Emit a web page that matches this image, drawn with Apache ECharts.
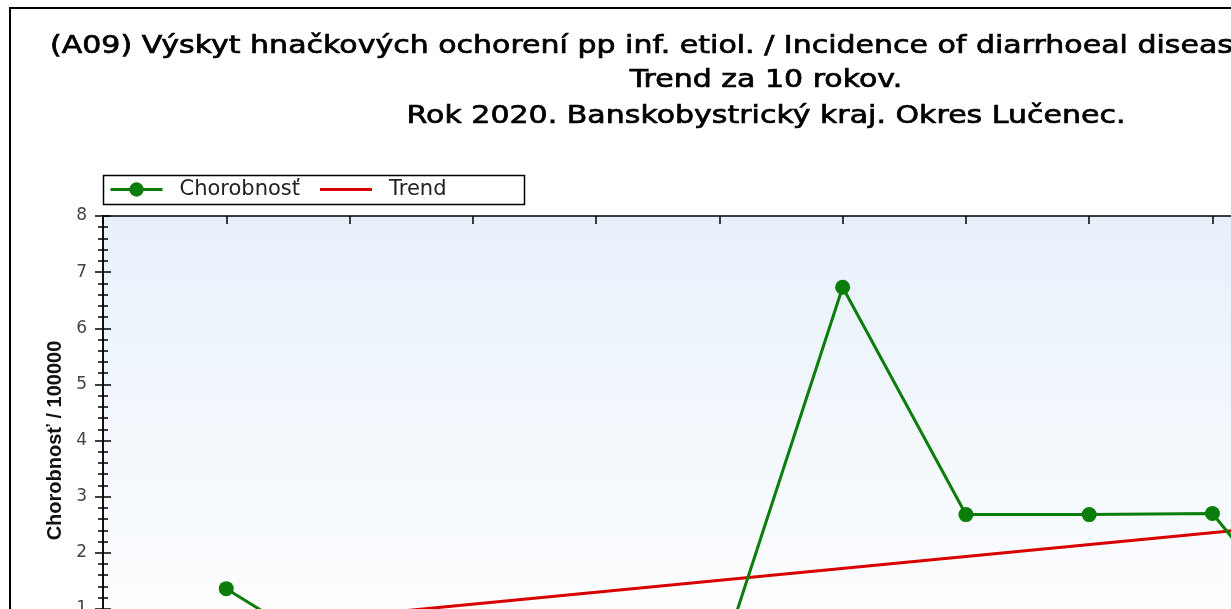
<!DOCTYPE html>
<html>
<head>
<meta charset="utf-8">
<script src="https://cdn.jsdelivr.net/npm/echarts@6/dist/echarts.min.js"></script>
<style>
    body { margin: 0; overflow: hidden; background: #fff; }
    #chart { width: 1530px; height: 760px; }
</style>
</head>
<body>
<div id="chart"></div>
<script>
    // hodnoty odcitane z grafu
    const years = [2011, 2012, 2013, 2014, 2015, 2016, 2017, 2018, 2019, 2020]
    const incidence = [1.36, 0, 0, 0, 0, 6.73, 2.68, 2.68, 2.70, 0]
    const trendYears = [2011, 2020]
    const trendValues = [0.66, 2.57]
    const yTicks = [0, 1, 2, 3, 4, 5, 6, 7, 8]

    const titleLines = [
        '(A09) Výskyt hnačkových ochorení pp inf. etiol. / Incidence of diarrhoeal diseases inf. etiol.',
        'Trend za 10 rokov.',
        'Rok 2020. Banskobystrický kraj. Okres Lučenec.'
    ]

    const green = '#0b7d0b'
    const red = '#d80000'
    const titleFont = { fontFamily: 'DejaVu Sans', fontSize: 25, fill: '#000', stroke: '#000', lineWidth: 0.7 }

    let chart = echarts.init(document.getElementById('chart'))

    let yBase = {
        type: 'value',
        min: yTicks[0],
        max: yTicks[yTicks.length - 1],
        interval: 1,
        position: 'left',
        axisLine: { show: true, onZero: false, lineStyle: { color: '#000', width: 1.5 } },
        splitLine: { show: false }
    }

    chart.setOption({
        animation: false,
        graphic: [
            { type: 'rect', shape: { x: 10, y: 8, width: 1500, height: 740 },
              style: { fill: 'none', stroke: '#000', lineWidth: 2 }, z: 0 },
            { type: 'rect', shape: { x: 103.5, y: 175.5, width: 421, height: 29 },
              style: { fill: '#fff', stroke: '#000', lineWidth: 1.5 }, z: 1 },
            { type: 'text', x: 50, y: 46, scaleX: 1.2,
              style: Object.assign({ text: titleLines[0], align: 'left', verticalAlign: 'middle' }, titleFont) },
            { type: 'text', x: 766, y: 80, scaleX: 1.2,
              style: Object.assign({ text: titleLines[1], align: 'center', verticalAlign: 'middle' }, titleFont) },
            { type: 'text', x: 766, y: 116, scaleX: 1.2,
              style: Object.assign({ text: titleLines[2], align: 'center', verticalAlign: 'middle' }, titleFont) }
        ],
        legend: {
            left: 104,
            top: 174,
            z: 5,
            itemWidth: 52,
            itemHeight: 18,
            itemGap: 20,
            data: [
                { name: 'Chorobnosť', lineStyle: { width: 3 } },
                { name: 'Trend', icon: 'path://M0,0 L52,0 L52,3 L0,3 Z' }
            ],
            textStyle: { fontFamily: 'DejaVu Sans', fontSize: 21, color: '#222', padding: [0, 0, 0, 12] }
        },
        grid: {
            left: 103,
            top: 216,
            width: 1356,
            height: 449,
            show: true,
            borderWidth: 0,
            backgroundColor: {
                type: 'linear', x: 0, y: 0, x2: 0, y2: 1,
                colorStops: [{ offset: 0, color: '#e7f0fa' }, { offset: 1, color: '#ffffff' }]
            }
        },
        xAxis: [
            {
                type: 'value', min: 2010, max: 2021, interval: 1, position: 'bottom',
                axisLine: { onZero: false, lineStyle: { color: '#000' } },
                axisTick: { lineStyle: { color: '#000' } },
                axisLabel: { fontFamily: 'DejaVu Sans', fontSize: 17, color: '#333' },
                splitLine: { show: false }
            },
            {
                type: 'value', min: 2010, max: 2021, interval: 1, position: 'top',
                axisLine: { show: true, onZero: false, lineStyle: { color: '#000', width: 1.5 } },
                axisTick: { inside: true, length: 8, lineStyle: { color: '#000', width: 1.5 } },
                axisLabel: { show: false },
                splitLine: { show: false }
            }
        ],
        yAxis: [
            Object.assign({}, yBase, {
                name: 'Chorobnosť / 100000',
                nameLocation: 'middle',
                nameGap: 38,
                nameTextStyle: { fontFamily: 'Liberation Sans', fontWeight: 'bold', fontSize: 20, color: '#111' },
                axisTick: { show: true, length: 8, lineStyle: { color: '#000', width: 1.5 } },
                minorTick: { show: true, splitNumber: 5, length: 5, lineStyle: { color: '#000', width: 1.5 } },
                axisLabel: { margin: 16, fontFamily: 'DejaVu Sans', fontSize: 17, color: '#444' }
            }),
            Object.assign({}, yBase, {
                axisTick: { show: true, inside: true, length: 8, lineStyle: { color: '#000', width: 1.5 } },
                minorTick: { show: true, splitNumber: 5, length: 5, lineStyle: { color: '#000', width: 1.5 } },
                axisLabel: { show: false }
            })
        ],
        series: [
            {
                name: 'Chorobnosť',
                type: 'line',
                z: 3,
                data: years.map((y, i) => [y, incidence[i]]),
                symbol: 'circle',
                symbolSize: 15,
                itemStyle: { color: green },
                lineStyle: { color: green, width: 3 }
            },
            {
                name: 'Trend',
                type: 'line',
                z: 2,
                data: trendYears.map((y, i) => [y, trendValues[i]]),
                symbol: 'none',
                itemStyle: { color: red },
                lineStyle: { color: red, width: 3 }
            }
        ]
    })
</script>
</body>
</html>
